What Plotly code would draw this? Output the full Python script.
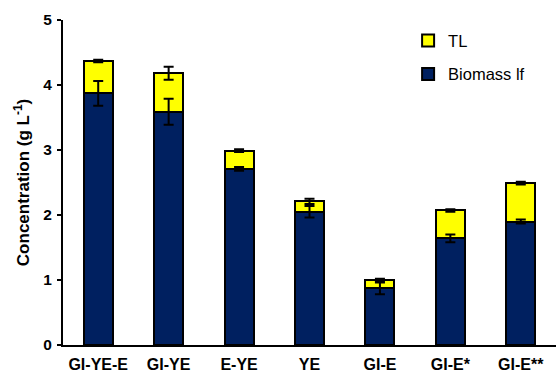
import plotly.graph_objects as go

# Treatments on the x axis
categories = ["GI-YE-E", "GI-YE", "E-YE", "YE", "GI-E", "GI-E*", "GI-E**"]

# Biomass lf concentration (g/L) and its standard deviation
biomass = [3.87, 3.59, 2.71, 2.05, 0.87, 1.64, 1.90]
biomass_err = [0.19, 0.20, 0.03, 0.09, 0.09, 0.06, 0.03]

# TL concentration (g/L), stacked on biomass, and its standard deviation
tl = [0.50, 0.59, 0.28, 0.16, 0.13, 0.43, 0.59]
tl_err = [0.02, 0.10, 0.02, 0.04, 0.02, 0.02, 0.02]

y_ticks = [0, 1, 2, 3, 4, 5]

NAVY = "#002060"
YELLOW = "#FFFF00"
FONT = "Liberation Sans, Arial, sans-serif"

stack_top = [b + t for b, t in zip(biomass, tl)]

fig = go.Figure()
fig.add_trace(go.Bar(
    name="Biomass lf", x=categories, y=biomass,
    marker=dict(color=NAVY, line=dict(color="black", width=2)),
    legendgroup="b", legendrank=2,
))
fig.add_trace(go.Bar(
    name="TL", x=categories, y=tl,
    marker=dict(color=YELLOW, line=dict(color="black", width=2)),
    legendgroup="t", legendrank=1,
))

# Error bars drawn on top of both stacked segments
err_style = dict(type="data", color="black", thickness=2, width=5)
fig.add_trace(go.Scatter(
    x=categories, y=biomass, mode="markers",
    marker=dict(size=1, opacity=0),
    error_y=dict(array=biomass_err, **err_style),
    showlegend=False, hoverinfo="skip",
))
fig.add_trace(go.Scatter(
    x=categories, y=stack_top, mode="markers",
    marker=dict(size=1, opacity=0),
    error_y=dict(array=tl_err, **err_style),
    showlegend=False, hoverinfo="skip",
))

fig.update_layout(
    barmode="stack",
    bargap=0.59,
    width=556, height=374,
    margin=dict(l=63, r=0, t=20, b=29),
    plot_bgcolor="white", paper_bgcolor="white",
    font=dict(family=FONT, size=16, color="black"),
    showlegend=True,
    legend=dict(
        x=0.70, y=0.99, xanchor="left", yanchor="top",
        traceorder="grouped", tracegroupgap=9,
        font=dict(size=16.5), bgcolor="rgba(0,0,0,0)",
    ),
    xaxis=dict(
        showline=True, linecolor="black", linewidth=2,
        ticks="", ticklabelstandoff=4, automargin=False,
        tickfont=dict(size=16, family=FONT, weight="bold"),
        showgrid=False,
    ),
    yaxis=dict(
        range=[0, 5], tickvals=y_ticks,
        showline=True, linecolor="black", linewidth=2,
        ticks="outside", ticklen=4, tickwidth=2, tickcolor="black",
        ticklabelstandoff=2, automargin=False,
        tickfont=dict(size=15.5, family=FONT, weight="bold"),
        showgrid=False, zeroline=False,
        title=dict(text="Concentration (g L<sup>-1</sup>)",
                   font=dict(size=17, family=FONT, weight="bold"), standoff=9),
    ),
)

fig.write_html("out.html")
